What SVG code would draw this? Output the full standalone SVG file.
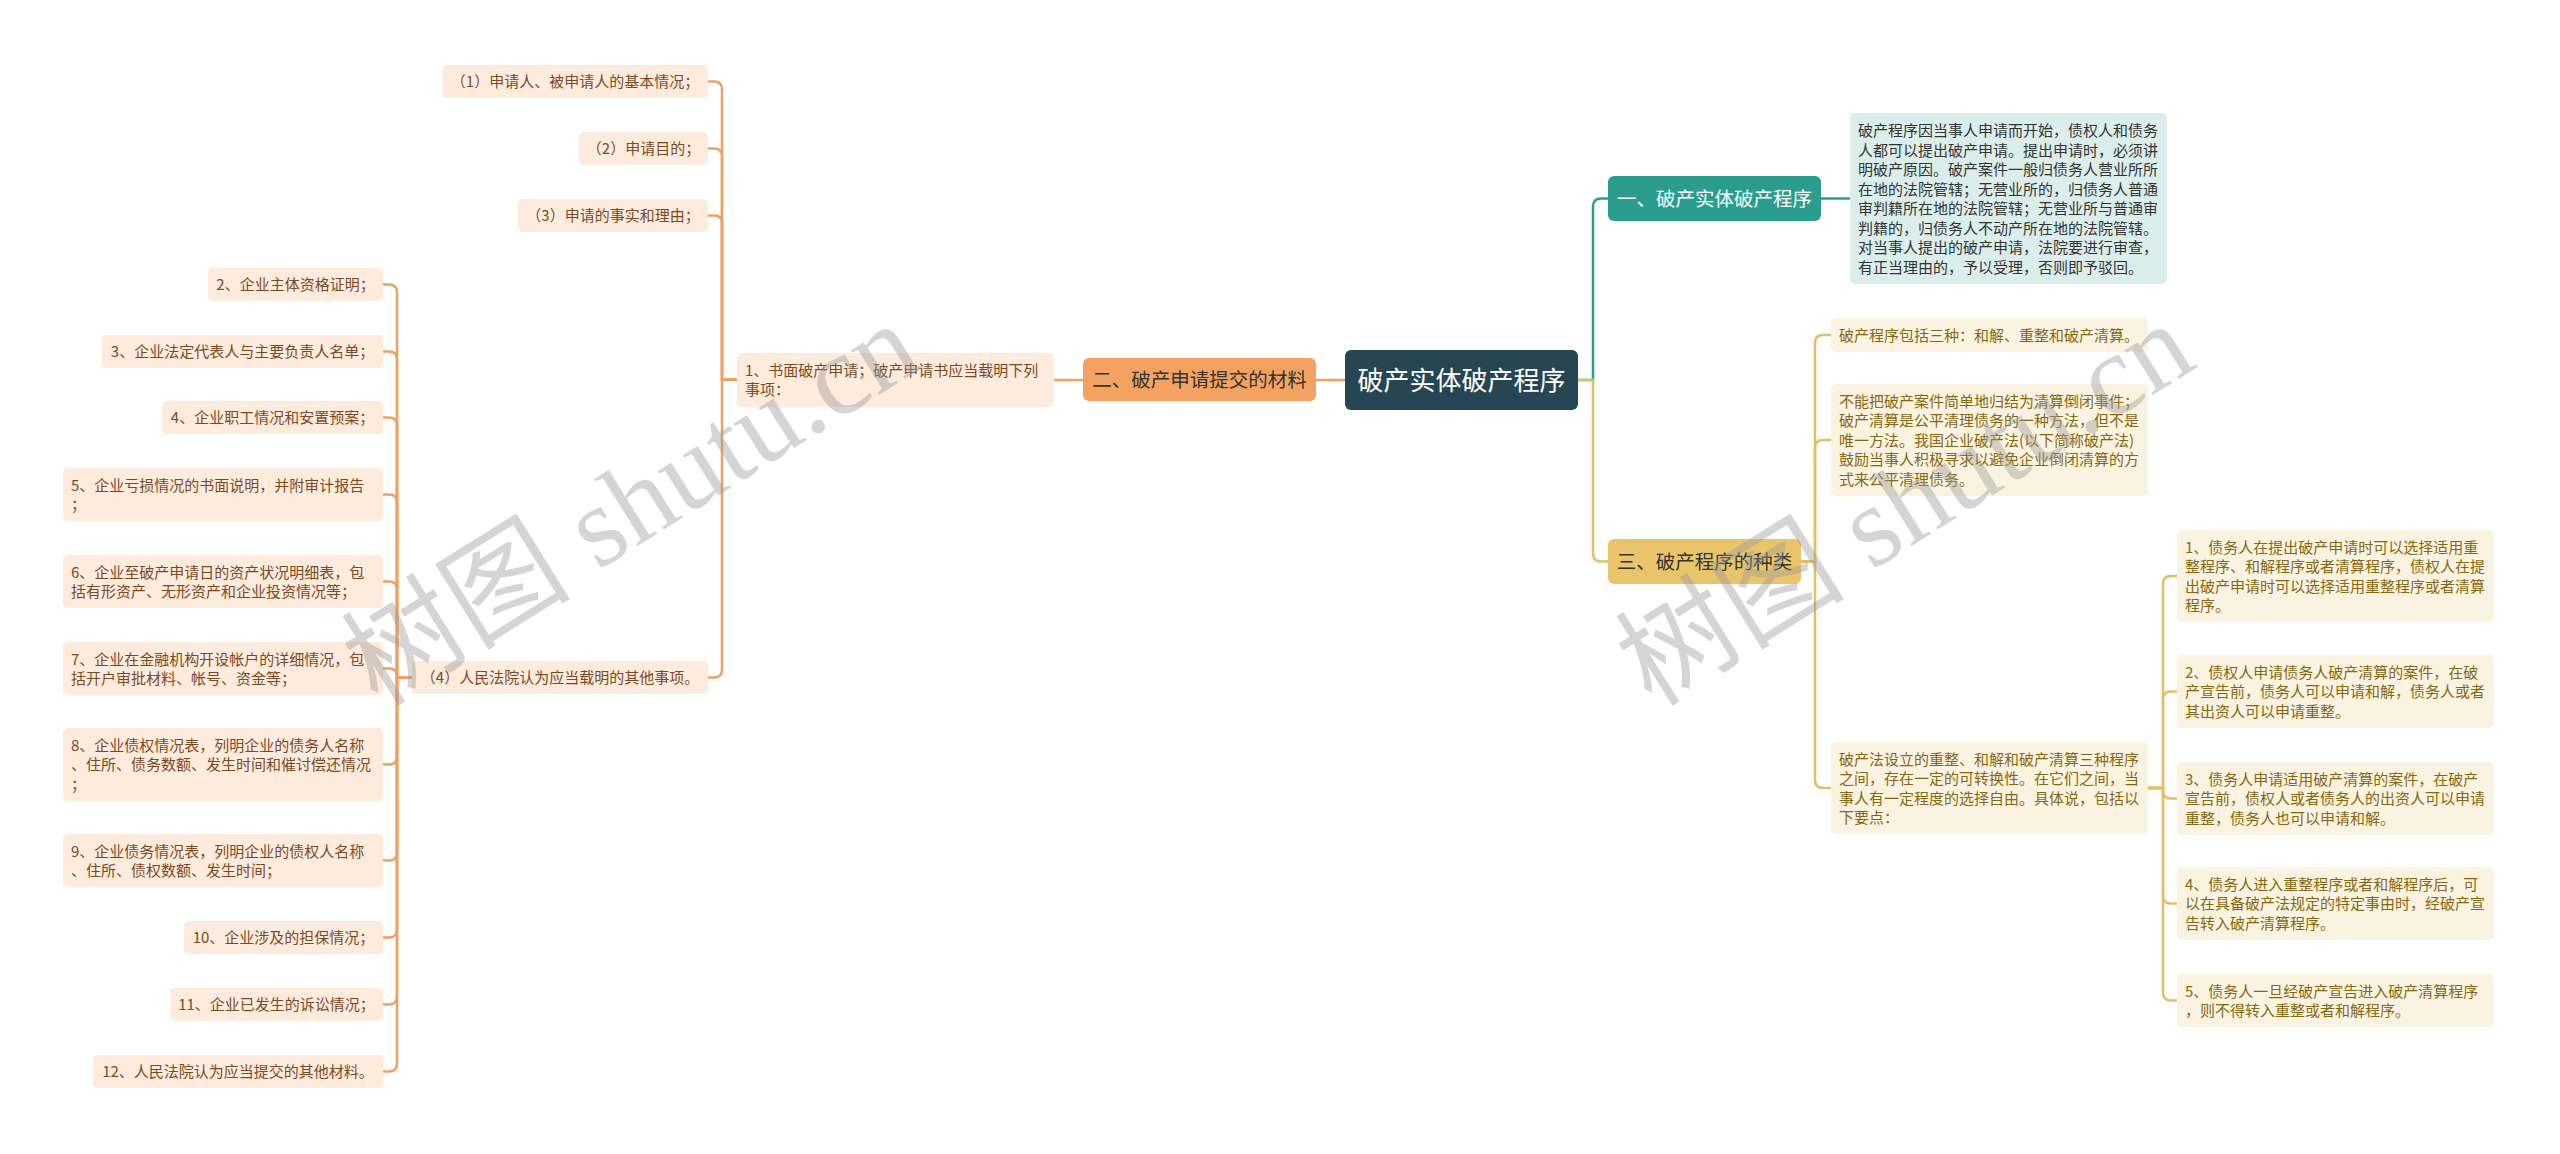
<svg xmlns="http://www.w3.org/2000/svg" width="2560" height="1154" viewBox="0 0 2560 1154">
<style>
text { font-family: "Noto Sans CJK SC", "Noto Sans", sans-serif; }
.lf { fill: #FDEBDD; }
.lt { fill: #7a4a1f; font-size: 15px; }
.gf { fill: #FBF3E1; }
.gt { fill: #85670f; font-size: 15px; }
.tf { fill: #DCEEEB; }
.tt { fill: #333333; font-size: 15px; }
.mid { text-anchor: middle; }
.co { fill: none; stroke: #ECA265; stroke-width: 2.5; }
.cg { fill: none; stroke: #E2BE67; stroke-width: 2.5; }
.ct { fill: none; stroke: #2A9D8F; stroke-width: 2.5; }
.wm { font-family: "Liberation Serif", "Noto Sans CJK SC", serif; font-size: 115px; fill: #9a9a9a; fill-opacity: 0.42; }
</style>
<rect width="2560" height="1154" fill="#ffffff"/>

<g id="connectors">
  <path class="co" d="M1345 380 H1316"/>
  <path class="co" d="M1083 380 H1054"/>
  <path class="co" d="M737 379.5 H722 V89.5 Q722 81.5 714 81.5 H708"/>
  <path class="co" d="M737 379.5 H722 V156.5 Q722 148.5 714 148.5 H708"/>
  <path class="co" d="M737 379.5 H722 V223.5 Q722 215.5 714 215.5 H708"/>
  <path class="co" d="M737 379.5 H722 V669.5 Q722 677.5 714 677.5 H708"/>
  <path class="co" d="M412 677.5 H397 V292.5 Q397 284.5 389 284.5 H383"/>
  <path class="co" d="M412 677.5 H397 V359.5 Q397 351.5 389 351.5 H383"/>
  <path class="co" d="M412 677.5 H397 V425.5 Q397 417.5 389 417.5 H383"/>
  <path class="co" d="M412 677.5 H397 V502.5 Q397 494.5 389 494.5 H383"/>
  <path class="co" d="M412 677.5 H397 V589.5 Q397 581.5 389 581.5 H383"/>
  <path class="co" d="M412 677.5 H397 V676.5 Q397 668.5 389 668.5 H383"/>
  <path class="co" d="M412 677.5 H397 V756.5 Q397 764.5 389 764.5 H383"/>
  <path class="co" d="M412 677.5 H397 V852.5 Q397 860.5 389 860.5 H383"/>
  <path class="co" d="M412 677.5 H397 V929.5 Q397 937.5 389 937.5 H383"/>
  <path class="co" d="M412 677.5 H397 V996.5 Q397 1004.5 389 1004.5 H383"/>
  <path class="co" d="M412 677.5 H397 V1063.5 Q397 1071.5 389 1071.5 H383"/>
  <path class="ct" d="M1578 380 H1593 V206.5 Q1593 198.5 1601 198.5 H1608"/>
  <path class="ct" d="M1821 198.5 H1850"/>
  <path class="cg" d="M1578 380 H1593 V553.5 Q1593 561.5 1601 561.5 H1608"/>
  <path class="cg" d="M1801 561.5 H1815 V343 Q1815 335 1823 335 H1831"/>
  <path class="cg" d="M1801 561.5 H1815 V448 Q1815 440 1823 440 H1831"/>
  <path class="cg" d="M1801 561.5 H1815 V780 Q1815 788 1823 788 H1831"/>
  <path class="cg" d="M2148 788 H2163 V584 Q2163 576 2171 576 H2177"/>
  <path class="cg" d="M2148 788 H2163 V699.5 Q2163 691.5 2171 691.5 H2177"/>
  <path class="cg" d="M2148 788 H2163 V790.5 Q2163 798.5 2171 798.5 H2177"/>
  <path class="cg" d="M2148 788 H2163 V895.5 Q2163 903.5 2171 903.5 H2177"/>
  <path class="cg" d="M2148 788 H2163 V992.5 Q2163 1000.5 2171 1000.5 H2177"/>
</g>

<g id="root">
  <rect x="1345" y="350" width="233" height="60" rx="6" fill="#264653"/>
  <text x="1461.5" y="389.5" class="mid" fill="#ffffff" font-size="26">破产实体破产程序</text>
</g>

<g id="b2">
  <rect x="1083" y="358" width="233" height="43" rx="6" fill="#F4A261"/>
  <text x="1199.5" y="387" class="mid" fill="#333333" font-size="19.5">二、破产申请提交的材料</text>
</g>

<g id="b2-1">
  <rect class="lf" x="737" y="353" width="317" height="54" rx="5"/>
  <text class="lt" x="745" y="375.7">1、书面破产申请；破产申请书应当载明下列</text>
  <text class="lt" x="745" y="395.2">事项：</text>
</g>

<g id="b2-1-1">
  <rect class="lf" x="442" y="65" width="266" height="33" rx="5"/>
  <text class="lt mid" x="575" y="87.2">（1）申请人、被申请人的基本情况；</text>
</g>
<g id="b2-1-2">
  <rect class="lf" x="579" y="132" width="129" height="33" rx="5"/>
  <text class="lt mid" x="643.5" y="154.2">（2）申请目的；</text>
</g>
<g id="b2-1-3">
  <rect class="lf" x="518" y="199" width="190" height="33" rx="5"/>
  <text class="lt mid" x="613" y="221.2">（3）申请的事实和理由；</text>
</g>
<g id="b2-1-4">
  <rect class="lf" x="412" y="661" width="296" height="33" rx="5"/>
  <text class="lt mid" x="560" y="683.2">（4）人民法院认为应当载明的其他事项。</text>
</g>

<g id="m2">
  <rect class="lf" x="208" y="268" width="175" height="33" rx="5"/>
  <text class="lt mid" x="295.5" y="290.2">2、企业主体资格证明；</text>
</g>
<g id="m3">
  <rect class="lf" x="102" y="335" width="281" height="33" rx="5"/>
  <text class="lt mid" x="242.5" y="357.2">3、企业法定代表人与主要负责人名单；</text>
</g>
<g id="m4">
  <rect class="lf" x="162" y="401" width="221" height="33" rx="5"/>
  <text class="lt mid" x="272.5" y="423.2">4、企业职工情况和安置预案；</text>
</g>
<g id="m5">
  <rect class="lf" x="63" y="468" width="320" height="53" rx="5"/>
  <text class="lt" x="71" y="490.5">5、企业亏损情况的书面说明，并附审计报告</text>
  <text class="lt" x="71" y="510">；</text>
</g>
<g id="m6">
  <rect class="lf" x="63" y="555" width="320" height="53" rx="5"/>
  <text class="lt" x="71" y="577.5">6、企业至破产申请日的资产状况明细表，包</text>
  <text class="lt" x="71" y="597">括有形资产、无形资产和企业投资情况等；</text>
</g>
<g id="m7">
  <rect class="lf" x="63" y="642" width="320" height="53" rx="5"/>
  <text class="lt" x="71" y="664.5">7、企业在金融机构开设帐户的详细情况，包</text>
  <text class="lt" x="71" y="684">括开户审批材料、帐号、资金等；</text>
</g>
<g id="m8">
  <rect class="lf" x="63" y="728" width="320" height="73" rx="5"/>
  <text class="lt" x="71" y="750.5">8、企业债权情况表，列明企业的债务人名称</text>
  <text class="lt" x="71" y="770">、住所、债务数额、发生时间和催讨偿还情况</text>
  <text class="lt" x="71" y="789.5">；</text>
</g>
<g id="m9">
  <rect class="lf" x="63" y="834" width="320" height="53" rx="5"/>
  <text class="lt" x="71" y="856.5">9、企业债务情况表，列明企业的债权人名称</text>
  <text class="lt" x="71" y="876">、住所、债权数额、发生时间；</text>
</g>
<g id="m10">
  <rect class="lf" x="184" y="921" width="199" height="33" rx="5"/>
  <text class="lt mid" x="283.5" y="943.2">10、企业涉及的担保情况；</text>
</g>
<g id="m11">
  <rect class="lf" x="170" y="988" width="213" height="33" rx="5"/>
  <text class="lt mid" x="276.5" y="1010.2">11、企业已发生的诉讼情况；</text>
</g>
<g id="m12">
  <rect class="lf" x="93" y="1055" width="290" height="33" rx="5"/>
  <text class="lt mid" x="238" y="1077.2">12、人民法院认为应当提交的其他材料。</text>
</g>

<g id="b1">
  <rect x="1608" y="176" width="213" height="45" rx="6" fill="#2A9D8F"/>
  <text x="1714.5" y="206" class="mid" fill="#ffffff" font-size="19.5">一、破产实体破产程序</text>
</g>
<g id="b1-1">
  <rect class="tf" x="1850" y="113" width="317" height="171" rx="5"/>
  <text class="tt" x="1858" y="136">破产程序因当事人申请而开始，债权人和债务</text>
  <text class="tt" x="1858" y="155.5">人都可以提出破产申请。提出申请时，必须讲</text>
  <text class="tt" x="1858" y="175">明破产原因。破产案件一般归债务人营业所所</text>
  <text class="tt" x="1858" y="194.5">在地的法院管辖；无营业所的，归债务人普通</text>
  <text class="tt" x="1858" y="214">审判籍所在地的法院管辖；无营业所与普通审</text>
  <text class="tt" x="1858" y="233.5">判籍的，归债务人不动产所在地的法院管辖。</text>
  <text class="tt" x="1858" y="253">对当事人提出的破产申请，法院要进行审查，</text>
  <text class="tt" x="1858" y="272.5">有正当理由的，予以受理，否则即予驳回。</text>
</g>

<g id="b3">
  <rect x="1608" y="539" width="193" height="45" rx="6" fill="#E9C46A"/>
  <text x="1704.5" y="569" class="mid" fill="#333333" font-size="19.5">三、破产程序的种类</text>
</g>
<g id="b3-1">
  <rect class="gf" x="1831" y="318" width="317" height="34" rx="5"/>
  <text class="gt" x="1839" y="340.7">破产程序包括三种：和解、重整和破产清算。</text>
</g>
<g id="b3-2">
  <rect class="gf" x="1831" y="384" width="317" height="112" rx="5"/>
  <text class="gt" x="1839" y="406.7">不能把破产案件简单地归结为清算倒闭事件；</text>
  <text class="gt" x="1839" y="426.2">破产清算是公平清理债务的一种方法，但不是</text>
  <text class="gt" x="1839" y="445.7">唯一方法。我国企业破产法(以下简称破产法)</text>
  <text class="gt" x="1839" y="465.2">鼓励当事人积极寻求以避免企业倒闭清算的方</text>
  <text class="gt" x="1839" y="484.7">式来公平清理债务。</text>
</g>
<g id="b3-3">
  <rect class="gf" x="1831" y="742" width="317" height="92" rx="5"/>
  <text class="gt" x="1839" y="764.5">破产法设立的重整、和解和破产清算三种程序</text>
  <text class="gt" x="1839" y="784">之间，存在一定的可转换性。在它们之间，当</text>
  <text class="gt" x="1839" y="803.5">事人有一定程度的选择自由。具体说，包括以</text>
  <text class="gt" x="1839" y="823">下要点：</text>
</g>
<g id="r1">
  <rect class="gf" x="2177" y="530" width="317" height="92" rx="5"/>
  <text class="gt" x="2185" y="552.5">1、债务人在提出破产申请时可以选择适用重</text>
  <text class="gt" x="2185" y="572">整程序、和解程序或者清算程序，债权人在提</text>
  <text class="gt" x="2185" y="591.5">出破产申请时可以选择适用重整程序或者清算</text>
  <text class="gt" x="2185" y="611">程序。</text>
</g>
<g id="r2">
  <rect class="gf" x="2177" y="655" width="317" height="73" rx="5"/>
  <text class="gt" x="2185" y="677.7">2、债权人申请债务人破产清算的案件，在破</text>
  <text class="gt" x="2185" y="697.2">产宣告前，债务人可以申请和解，债务人或者</text>
  <text class="gt" x="2185" y="716.7">其出资人可以申请重整。</text>
</g>
<g id="r3">
  <rect class="gf" x="2177" y="762" width="317" height="73" rx="5"/>
  <text class="gt" x="2185" y="784.7">3、债务人申请适用破产清算的案件，在破产</text>
  <text class="gt" x="2185" y="804.2">宣告前，债权人或者债务人的出资人可以申请</text>
  <text class="gt" x="2185" y="823.7">重整，债务人也可以申请和解。</text>
</g>
<g id="r4">
  <rect class="gf" x="2177" y="867" width="317" height="73" rx="5"/>
  <text class="gt" x="2185" y="889.7">4、债务人进入重整程序或者和解程序后，可</text>
  <text class="gt" x="2185" y="909.2">以在具备破产法规定的特定事由时，经破产宣</text>
  <text class="gt" x="2185" y="928.7">告转入破产清算程序。</text>
</g>
<g id="r5">
  <rect class="gf" x="2177" y="974" width="317" height="53" rx="5"/>
  <text class="gt" x="2185" y="996.5">5、债务人一旦经破产宣告进入破产清算程序</text>
  <text class="gt" x="2185" y="1016">，则不得转入重整或者和解程序。</text>
</g>

<g id="watermark">
  <text class="wm" transform="translate(378 708) rotate(-32)">树图 shutu.cn</text>
  <text class="wm" transform="translate(1652 708) rotate(-32)">树图 shutu.cn</text>
</g>
</svg>
